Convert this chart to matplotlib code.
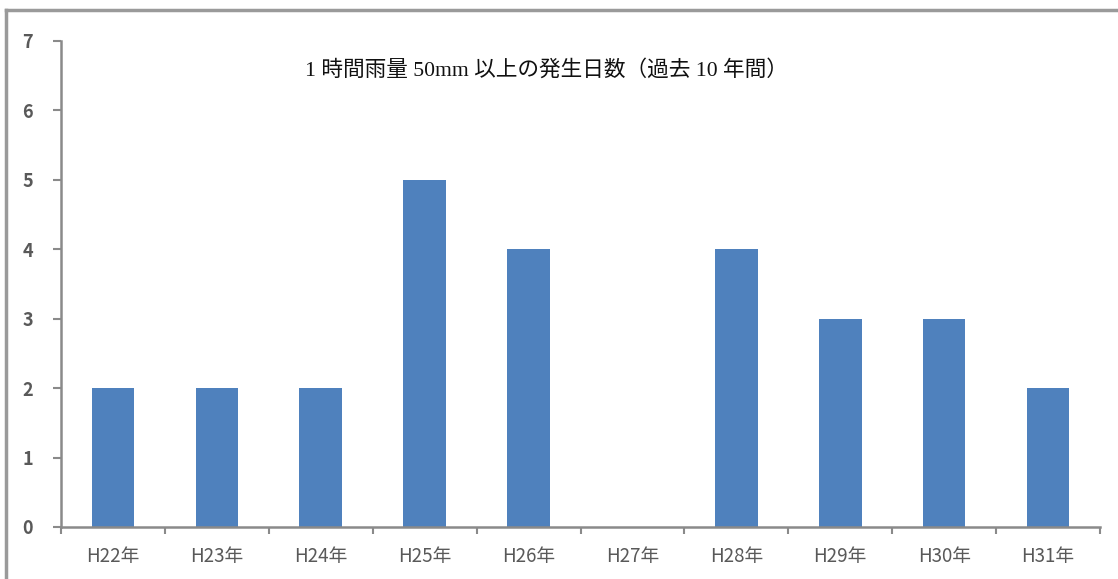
import matplotlib
matplotlib.use("Agg")
import matplotlib.pyplot as plt
from matplotlib.lines import Line2D

plt.rcParams["font.family"] = ["Noto Sans CJK JP", "DejaVu Sans"]

years = ["H22年", "H23年", "H24年", "H25年", "H26年", "H27年", "H28年", "H29年", "H30年", "H31年"]
days = [2, 2, 2, 5, 4, 0, 4, 3, 3, 2]
title = "1 時間雨量 50mm 以上の発生日数（過去 10 年間）"

W, H = 1118, 579
fig = plt.figure(figsize=(W / 100, H / 100), dpi=100)
ax = fig.add_axes([61 / W, 1 - 527 / H, (1100 - 61) / W, (527 - 41) / H])

axis_color = "#8a8a8a"
label_color = "#595959"

x = list(range(len(years)))
ax.bar(x, days, width=0.41, color="#4f81bd", edgecolor="none", zorder=2)

ax.set_xlim(-0.5, len(years) - 0.5)
ax.set_ylim(0, 7)
ax.set_yticks(range(0, 8))

# category labels centred on bars, tick marks on the boundaries
ax.set_xticks(x)
ax.set_xticklabels(years)
ax.set_xticks([i - 0.5 for i in range(len(years) + 1)], minor=True)
ax.tick_params(axis="x", which="major", length=0, pad=14, labelsize=13.5, labelcolor=label_color)
ax.tick_params(axis="x", which="minor", length=5, width=1.5, color=axis_color, direction="out")
ax.tick_params(axis="y", length=6, width=1.5, color=axis_color, pad=14, labelsize=13, labelcolor=label_color)
for lbl in ax.get_yticklabels():
    lbl.set_fontweight("bold")

for side in ["top", "right"]:
    ax.spines[side].set_visible(False)
for side in ["left", "bottom"]:
    ax.spines[side].set_color(axis_color)
    ax.spines[side].set_linewidth(1.8)

fig.text(546 / W, 1 - 70 / H, title, ha="center", va="center", fontsize=15.6,
         family=["Liberation Serif", "Noto Sans CJK JP"], color="#111111")

# outer frame (left and top edges only)
frame_color = "#9a9a9a"
fig.add_artist(Line2D([6 / W, 6 / W], [0, 1 - 10 / H], transform=fig.transFigure,
                      color=frame_color, linewidth=2.5))
fig.add_artist(Line2D([6 / W, 1], [1 - 10 / H, 1 - 10 / H], transform=fig.transFigure,
                      color=frame_color, linewidth=2.5))

fig.savefig("out.png", dpi=100)
